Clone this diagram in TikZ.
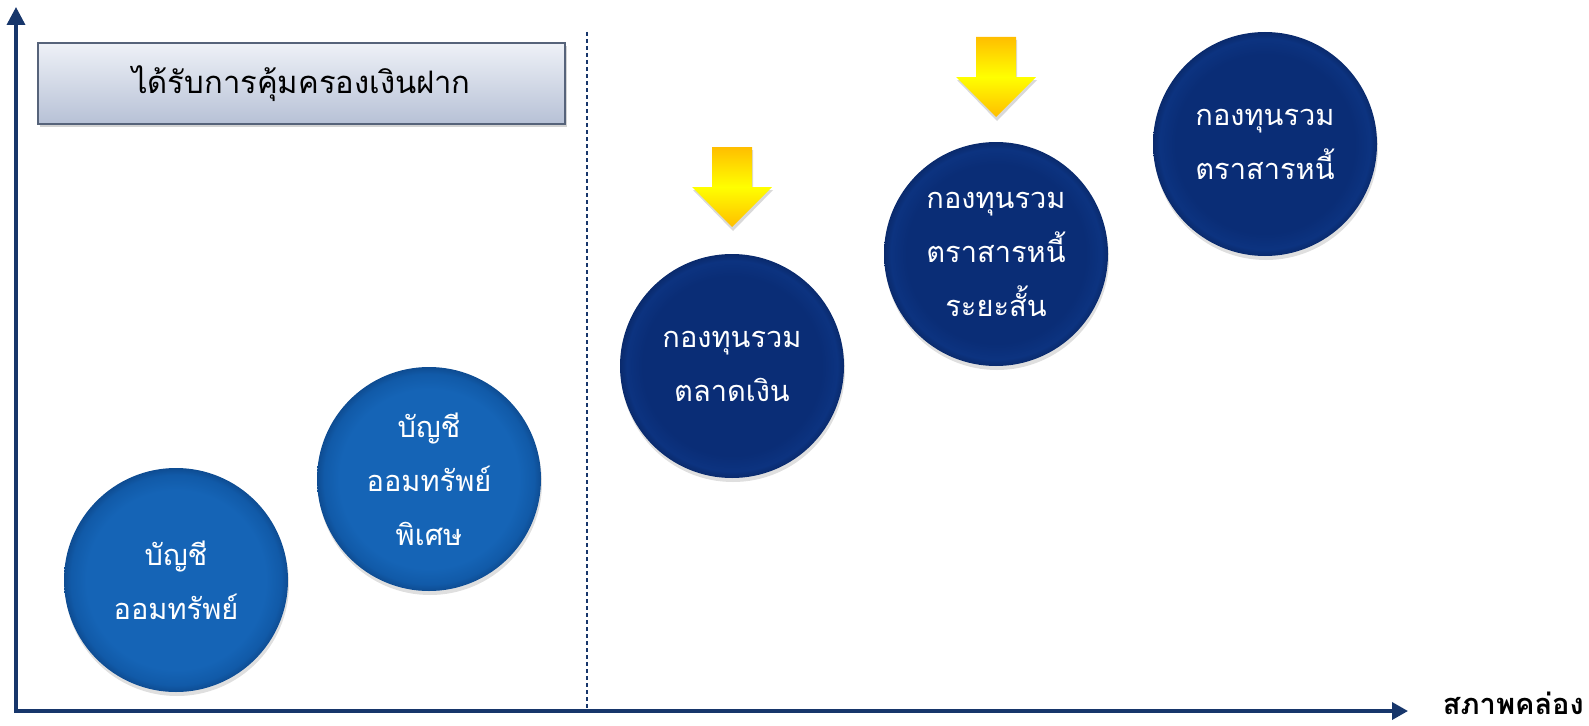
\documentclass[tikz,border=0pt]{standalone}
\usepackage{fontspec}
\newfontfamily\thai[Script=Thai]{Loma}
\usetikzlibrary{arrows.meta,shadows}
\definecolor{axisblue}{HTML}{17366B}
\definecolor{lbmid}{HTML}{1564B6}
\definecolor{lbrim}{HTML}{115AA8}
\definecolor{lbedge}{HTML}{0E4C92}
\definecolor{dbmid}{HTML}{0A2D76}
\definecolor{dbrim}{HTML}{0C3380}
\definecolor{dbedge}{HTML}{0A2A6C}
\definecolor{boxtop}{HTML}{EEF1F7}
\definecolor{boxbot}{HTML}{B7C1D6}
\definecolor{boxedge}{HTML}{56637A}
\definecolor{yorange}{HTML}{FFBE00}
\definecolor{yyellow}{HTML}{FFFF00}
\pgfdeclareradialshading{lightball}{\pgfpoint{0bp}{0bp}}{color(0bp)=(lbmid); color(20bp)=(lbmid); color(23.5bp)=(lbrim); color(25bp)=(lbedge); color(50bp)=(lbedge)}
\pgfdeclareradialshading{darkball}{\pgfpoint{0bp}{0bp}}{color(0bp)=(dbmid); color(20bp)=(dbmid); color(23.5bp)=(dbrim); color(25bp)=(dbedge); color(50bp)=(dbedge)}
\tikzset{
  bubble/.style={circle, minimum size=224pt, inner sep=0pt, align=center,
    text=white, font=\thai\fontsize{29}{54}\selectfont,
    drop shadow={opacity=0.25, shadow xshift=1pt, shadow yshift=-4pt}},
  lightbubble/.style={bubble, shading=lightball},
  darkbubble/.style={bubble, shading=darkball},
  axisline/.style={draw=axisblue, line width=3.5pt, {Triangle[length=18pt,width=18pt]}-{Triangle[length=16pt,width=17pt]}},
  divider/.style={draw=axisblue, line width=1.2pt, dash pattern=on 4pt off 3pt},
  titlebox/.style={draw=boxedge, line width=1.3pt, top color=boxtop, bottom color=boxbot,
    minimum width=527pt, minimum height=81pt, inner sep=0pt,
    font=\thai\fontsize{31}{36}\selectfont, text=black,
    drop shadow={opacity=0.35, shadow xshift=2pt, shadow yshift=-3pt}},
  xlabel/.style={font=\thai\bfseries\fontsize{29}{34}\selectfont, text=black, inner sep=0pt},
  yarrow/.pic={
    \fill[black, opacity=0.15] (-19,3) -- (21,3) -- (21,43) -- (41,43) -- (1,84) -- (-39,43) -- (-19,43) -- cycle;
    \shade[top color=yorange, bottom color=yorange, middle color=yyellow]
      (-20,0) -- (20,0) -- (20,40) -- (40,40) -- (0,80) -- (-40,40) -- (-20,40) -- cycle;
  }
}
\begin{document}
\begin{tikzpicture}[x=1pt,y=-1pt]
\useasboundingbox (0,0) rectangle (1589,725);
% axes
\coordinate (ytop) at (16,7);
\coordinate (origin) at (16,711);
\coordinate (xend) at (1408,711);
\draw[axisline] (ytop) -- (origin) -- (xend);
\node[xlabel, anchor=base east] (xl) at (1584,714) {สภาพคล่อง};
% divider
\coordinate (dtop) at (587,32);
\coordinate (dbot) at (587,709);
\draw[divider] (dtop) -- (dbot);
% title
\node[titlebox] (title) at (301.5,83.5) {ได้รับการคุ้มครองเงินฝาก};
% yellow arrows
\pic at (732,147) {yarrow};
\pic at (996,37) {yarrow};
% bubbles
\node[lightbubble] (b1) at (176,580) {บัญชี\\ออมทรัพย์};
\node[lightbubble] (b2) at (429,479) {บัญชี\\ออมทรัพย์\\พิเศษ};
\node[darkbubble] (b3) at (732,366) {กองทุนรวม\\ตลาดเงิน};
\node[darkbubble] (b4) at (996,254) {กองทุนรวม\\ตราสารหนี้\\ระยะสั้น};
\node[darkbubble] (b5) at (1265,144) {กองทุนรวม\\ตราสารหนี้};
\end{tikzpicture}
\end{document}
